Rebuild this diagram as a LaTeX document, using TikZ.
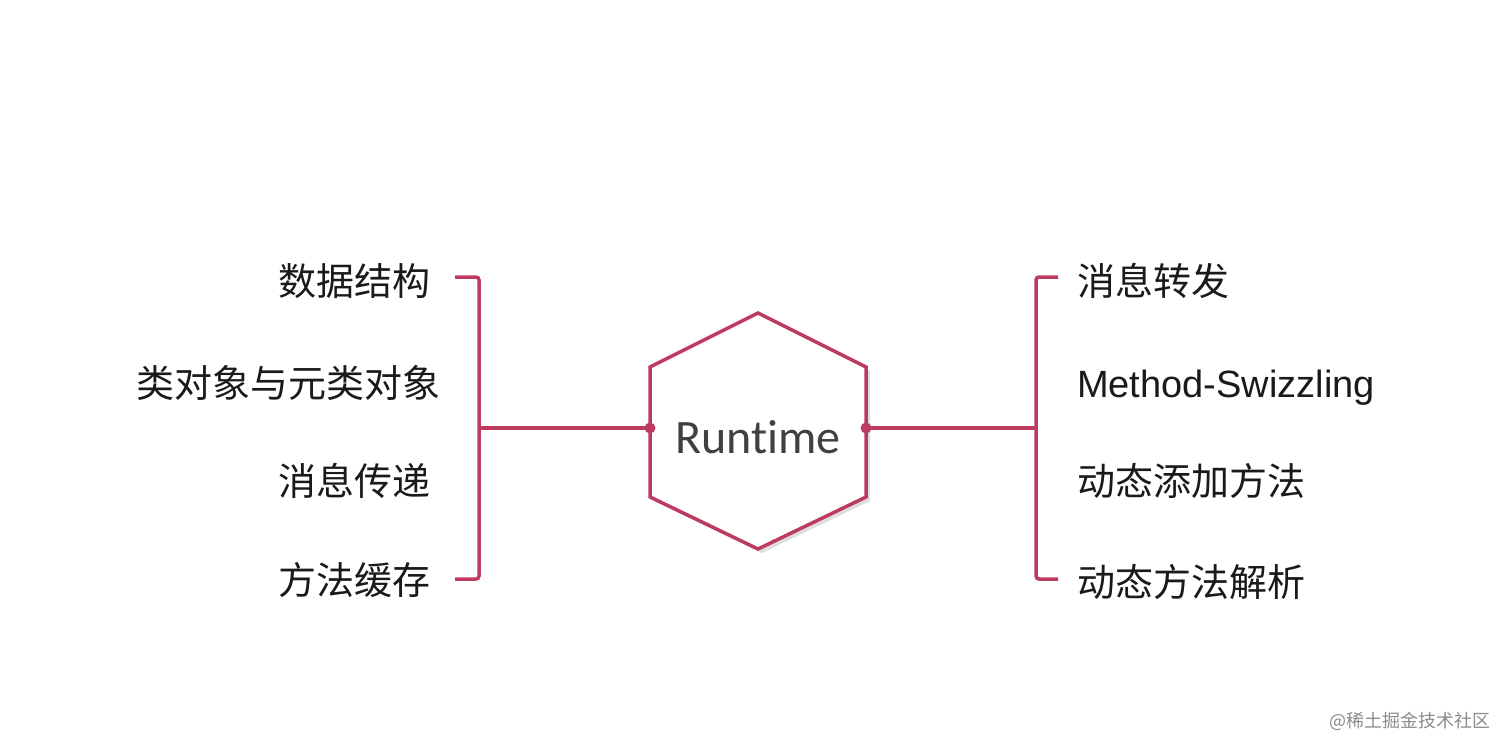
\documentclass[tikz,border=0pt]{standalone}
\usepackage{fontspec}
\setmainfont{Liberation Sans}
\newfontfamily\cjk{Noto Sans CJK SC}
\newfontfamily\carl[Ligatures=NoCommon]{Carlito}
\definecolor{brk}{HTML}{BC3B5F}
\definecolor{txt}{HTML}{1A1A1A}
\definecolor{rtxt}{HTML}{404040}
\begin{document}
\begin{tikzpicture}[x=1pt,y=1pt,
  conn/.style={draw=brk,line width=3.5pt,rounded corners=3pt},
  lab/.style={inner sep=0pt,text=txt,font=\cjk\fontsize{38}{40}\selectfont},
  dotn/.style={circle,fill=brk,inner sep=0pt,minimum size=11pt}]
\useasboundingbox (0,0) rectangle (1512,-754);
\fill[white] (0,0) rectangle (1512,-754);
% hexagon
\coordinate (ht) at (758,-313);
\coordinate (hul) at (650,-367);
\coordinate (hll) at (650,-497);
\coordinate (hb) at (758,-549);
\coordinate (hlr) at (866,-497);
\coordinate (hur) at (866,-367);
\fill[black!25,opacity=0.5] ([shift={(4,-4)}]ht) -- ([shift={(4,-4)}]hul) -- ([shift={(4,-4)}]hll) -- ([shift={(4,-4)}]hb) -- ([shift={(4,-4)}]hlr) -- ([shift={(4,-4)}]hur) -- cycle;
\draw[brk,line width=3.5pt,fill=white,line join=miter] (ht) -- (hul) -- (hll) -- (hb) -- (hlr) -- (hur) -- cycle;
\node[inner sep=0pt,anchor=base,text=rtxt,font=\carl\fontsize{48}{50}\selectfont] (rt) at (758,-453) {Runtime};
\node[dotn] (dl) at (650,-428) {};
\node[dotn] (dr) at (866,-428) {};
% left bracket
\coordinate (lt) at (455,-277);
\coordinate (lb) at (455,-579);
\coordinate (lm) at (479,-428);
\draw[conn] (lt) -| (lm) |- (lb);
\draw[draw=brk,line width=3.5pt] (lm) -- (dl.center);
% right bracket
\coordinate (rtop) at (1058,-277);
\coordinate (rbot) at (1058,-579);
\coordinate (rm) at (1036,-428);
\draw[conn] (rtop) -| (rm) |- (rbot);
\draw[draw=brk,line width=3.5pt] (dr.center) -- (rm);
% left labels
\node[lab,anchor=east] (a1) at (431,-281) {数据结构};
\node[lab,anchor=east] (a2) at (441,-383) {类对象与元类对象};
\node[lab,anchor=east] (a3) at (431,-481) {消息传递};
\node[lab,anchor=east] (a4) at (431,-580) {方法缓存};
% right labels
\node[lab,anchor=west] (b1) at (1077,-281) {消息转发};
\node[inner sep=0pt,anchor=base west,text=txt,font=\fontsize{38}{40}\selectfont] (b2) at (1077,-397) {Method-Swizzling};
\node[lab,anchor=west] (b3) at (1077,-481) {动态添加方法};
\node[lab,anchor=west] (b4) at (1077,-582) {动态方法解析};
% watermark
\node[inner sep=0pt,anchor=east,text=black!45,font=\cjk\fontsize{18}{20}\selectfont] (wm) at (1491,-721) {@稀土掘金技术社区};
\end{tikzpicture}
\end{document}
